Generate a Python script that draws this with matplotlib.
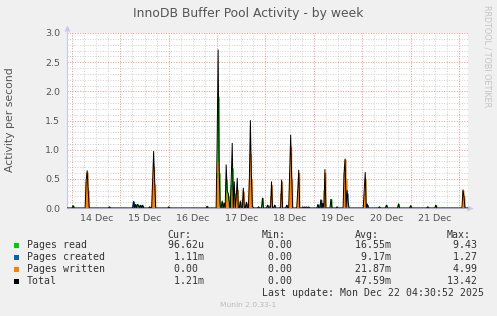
import numpy as np
import matplotlib
matplotlib.use("Agg")
import matplotlib.pyplot as plt
from matplotlib.patches import Rectangle

W, H = 497, 316

# hours since 14 Dec 00:00, values in pages/second
read_t = [0.5, 18.5, 32.5, 34, 38.5, 48, 67, 72, 72.5, 73, 74.5, 76.5, 77.5, 79, 79.5, 80.5, 82,
          83.5, 85.5, 89.5, 94.5, 97, 103, 123, 128.5, 131.5, 152.5, 156, 162, 168, 176.5, 180.5]
read_v = [0.04, 0.02, 0.05, 0.05, 0.02, 0.02, 0.03, 0.60, 1.91, 0.60, 0.10, 0.48, 0.20, 0.40, 0.68,
          0.25, 0.30, 0.10, 0.05, 0.02, 0.17, 0.05, 0.02, 0.06, 0.15, 0.02, 0.02, 0.05, 0.07, 0.04,
          0.02, 0.05]

created_t = [30.5, 31.5, 33, 35, 73.5, 75.5, 78, 83.5, 86.5, 87.5, 92.5, 97.5, 100.5, 106.5,
             122, 123.5, 124.5, 136.5, 146.5]
created_v = [0.11, 0.06, 0.04, 0.04, 0.02, 0.06, 0.08, 0.06, 0.08, 0.04, 0.02, 0.04, 0.05, 0.05,
             0.06, 0.14, 0.08, 0.25, 0.05]

written_t = [7, 7.5, 8, 40, 40.5, 41, 72, 72.5, 76, 77, 79.5, 80.5, 81.5, 82, 84.5, 85, 88, 88.5,
             89, 98.5, 99, 103.5, 104, 108, 108.5, 109, 112, 112.5, 125, 125.5, 135, 135.5, 136,
             145, 145.5, 194, 194.5]
written_v = [0.45, 0.61, 0.30, 0.45, 0.71, 0.40, 0.50, 0.79, 0.10, 0.25, 0.31, 0.20, 0.20, 0.31,
             0.15, 0.28, 0.50, 0.93, 0.50, 0.20, 0.39, 0.25, 0.45, 0.60, 1.05, 0.50, 0.30, 0.60,
             0.30, 0.60, 0.60, 0.83, 0.50, 0.25, 0.50, 0.30, 0.20]

total_t = [0.5, 7, 7.5, 8, 18.5, 30.5, 31.5, 32.5, 33, 34, 35, 38.5, 40, 40.5, 41, 48, 67, 72,
           72.5, 73, 73.5, 74.5, 75.5, 76.5, 77, 77.5, 78, 79, 79.5, 80.5, 81.5, 82, 83.5, 85,
           86.5, 88, 88.5, 89, 89.5, 92.5, 94.5, 97, 99, 100.5, 104, 106.5, 108, 108.5, 109, 112,
           112.5, 114.5, 115.5, 116.5, 117.5, 122, 123.5, 124.5, 125.5, 128.5, 131.5, 135, 135.5,
           136.5, 137, 145, 145.5, 146.5, 152.5, 156, 162, 168, 176.5, 180.5, 194, 194.5]
total_v = [0.04, 0.47, 0.64, 0.32, 0.02, 0.11, 0.06, 0.06, 0.05, 0.05, 0.05, 0.02, 0.50, 0.97,
           0.45, 0.02, 0.03, 1.10, 2.71, 0.70, 0.05, 0.12, 0.08, 0.74, 0.30, 0.25, 0.10, 0.50,
           1.11, 0.45, 0.20, 0.51, 0.12, 0.34, 0.10, 0.50, 1.50, 0.55, 0.03, 0.02, 0.17, 0.05,
           0.45, 0.05, 0.48, 0.05, 0.60, 1.25, 0.55, 0.30, 0.65, 0.02, 0.02, 0.02, 0.02, 0.06,
           0.14, 0.08, 0.66, 0.15, 0.02, 0.60, 0.84, 0.30, 0.10, 0.30, 0.61, 0.07, 0.02, 0.05,
           0.07, 0.04, 0.02, 0.05, 0.31, 0.20]

day_labels = ["14 Dec", "15 Dec", "16 Dec", "17 Dec", "18 Dec", "19 Dec", "20 Dec", "21 Dec"]

series_names = ["Pages read", "Pages created", "Pages written", "Total"]
series_colors = ["#00CC00", "#0066B3", "#FF8000", "#000000"]
cur_vals = [" 96.62u", "  1.11m", "  0.00 ", "  1.21m"]
min_vals = ["  0.00 ", "  0.00 ", "  0.00 ", "  0.00 "]
avg_vals = [" 16.55m", "  9.17m", " 21.87m", " 47.59m"]
max_vals = ["  9.43 ", "  1.27 ", "  4.99 ", " 13.42 "]

T0, T1 = -2.5, 196.5
grid = np.arange(T0, T1 + 0.01, 0.5)


def build(times, vals):
    s = np.zeros_like(grid)
    for h, v in zip(times, vals):
        s[np.argmin(np.abs(grid - h))] = v
    return s


read = build(read_t, read_v)
created = build(created_t, created_v)
written = build(written_t, written_v)
total = build(total_t, total_v)

fig = plt.figure(figsize=(W / 100, H / 100), dpi=100, facecolor="#F0F0F0")
ax = fig.add_axes([67 / W, 1 - 208 / H, (468 - 67) / W, (208 - 33) / H])
ax.set_facecolor("#FFFFFF")
ax.set_xlim(T0, T1)
ax.set_ylim(0, 3.0)

# grid like rrdtool
dot = (0, (1, 1.6))
for y in np.arange(0.1, 3.01, 0.1):
    major = abs(y / 0.5 - round(y / 0.5)) < 1e-6
    ax.axhline(y, color="#F09090" if major else "#CFCFCF", lw=0.7, ls=dot, zorder=0)
for h in np.arange(0, T1, 6):
    major = h % 24 == 0
    ax.axvline(h, color="#F09090" if major else "#CFCFCF", lw=0.7, ls=dot, zorder=0)

# areas are not stacked, each one from zero
ax.fill_between(grid, read, step="mid", color=series_colors[0], lw=0.8, zorder=2)
ax.fill_between(grid, created, step="mid", color=series_colors[1], lw=0.8, zorder=3)
ax.fill_between(grid, written, step="mid", color=series_colors[2], lw=0.8, zorder=4)
ax.plot(grid, total, color=series_colors[3], lw=0.7, zorder=5)

for s in ["top", "right"]:
    ax.spines[s].set_visible(False)
ax.spines["left"].set_color("#C8C8F0")
ax.spines["bottom"].set_color("#A8A8C8")
ax.spines["bottom"].set_zorder(6)
ax.plot([0, 0], [1, 1.03], color="#C8C8F0", lw=0.8, transform=ax.transAxes, clip_on=False)
ax.plot([0], [1.03], marker="^", ms=4, color="#C8C8F0", mec="none", transform=ax.transAxes, clip_on=False)
ax.plot([1, 1.006], [0, 0], color="#C8C8F0", lw=0.8, transform=ax.transAxes, clip_on=False)
ax.plot([1.006], [0], marker=">", ms=4, color="#C8C8F0", mec="none", transform=ax.transAxes, clip_on=False)

ax.set_yticks(np.arange(0, 3.01, 0.5))
ax.set_yticklabels([f"{v:.1f}" for v in np.arange(0, 3.01, 0.5)])
ax.set_xticks([12 + 24 * i for i in range(len(day_labels))])
ax.set_xticklabels(day_labels)
ax.tick_params(axis="both", length=0, labelsize=6.8, colors="#555555", pad=4)
ax.tick_params(axis="y", pad=5)

fig.text(10 / W, 1 - 120 / H, "Activity per second", rotation=90, ha="center", va="center",
         fontsize=7.8, color="#555555")
fig.text(248.5 / W, 1 - 13 / H, "InnoDB Buffer Pool Activity - by week", ha="center", va="center",
         fontsize=8.9, color="#555555")
fig.text(487 / W, 1 - 5 / H, "RRDTOOL / TOBI OETIKER", rotation=270, ha="center", va="top",
         fontsize=5.8, color="#C4C4C4")

# legend block
mono = dict(family="DejaVu Sans Mono", fontsize=7.1, color="#333333", va="center", ha="left")
hdr_y = 234.7
for x, txt in [(167.7, "Cur:"), (261.7, "Min:"), (355, "Avg:"), (447, "Max:")]:
    fig.text(x / W, 1 - hdr_y / H, txt, **mono)

for i, name in enumerate(series_names):
    y = 245.3 + 12 * i
    fig.add_artist(Rectangle((14 / W, 1 - (y + 2.7) / H), 5.4 / W, 5.4 / H,
                             transform=fig.transFigure, color=series_colors[i], lw=0))
    fig.text(26.7 / W, 1 - y / H, name, **mono)
    fig.text(161.7 / W, 1 - y / H, cur_vals[i], **mono)
    fig.text(255.8 / W, 1 - y / H, min_vals[i], **mono)
    fig.text(349 / W, 1 - y / H, avg_vals[i], **mono)
    fig.text(441.4 / W, 1 - y / H, max_vals[i], **mono)

fig.text(261.7 / W, 1 - 293.3 / H, "Last update: Mon Dec 22 04:30:52 2025", **mono)
fig.text(248.5 / W, 1 - 305 / H, "Munin 2.0.33-1", ha="center", va="center", fontsize=5.4, color="#BBBBBB")

fig.savefig("out.png", dpi=100, facecolor=fig.get_facecolor())
